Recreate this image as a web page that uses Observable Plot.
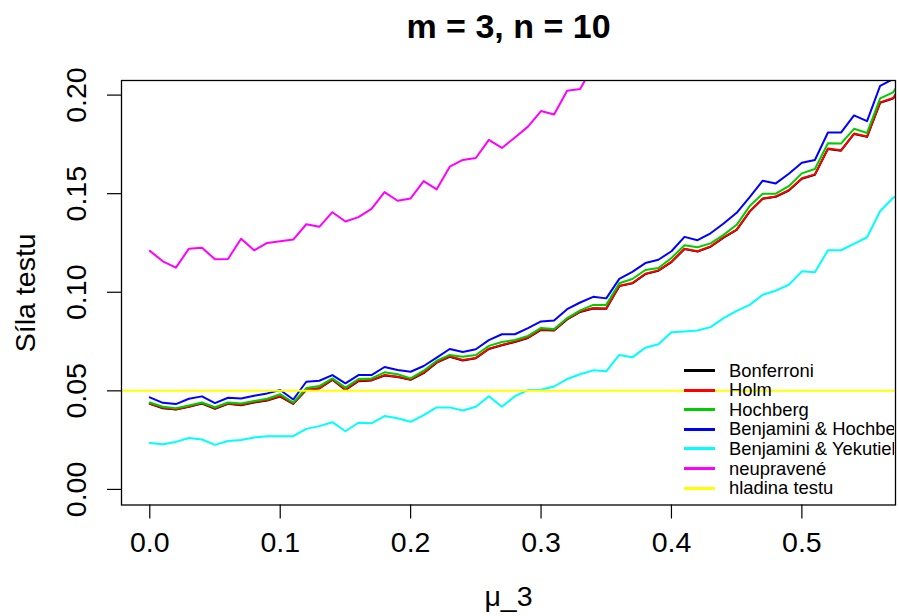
<!DOCTYPE html>
<html><head><meta charset="utf-8">
<script src="https://cdn.jsdelivr.net/npm/d3@7"></script>
<script src="https://cdn.jsdelivr.net/npm/@observablehq/plot@0.6"></script>
<style>
body{margin:0;overflow:hidden;background:#fff;}
#wrap{position:relative;width:899px;height:616px;overflow:hidden;font-family:"Liberation Sans",Arial,Helvetica,sans-serif;}
#legend{position:absolute;left:684px;top:361px;width:210px;overflow:hidden;}
.row{display:flex;align-items:center;height:19.55px;white-space:nowrap;font-size:18.4px;color:#000;}
.sw{flex:none;width:31px;height:0;border-top:3px solid;margin-right:14px;}
</style></head><body><div id="wrap"></div>
<script>
const title = "m = 3, n = 10";
const xLabel = "μ_3";
const yLabel = "Síla testu";
const alpha = 0.05;
const xTicks = [0.0, 0.1, 0.2, 0.3, 0.4, 0.5];
const yTicks = [0.00, 0.05, 0.10, 0.15, 0.20];

const mu = [0.00,0.01,0.02,0.03,0.04,0.05,0.06,0.07,0.08,0.09,0.10,0.11,0.12,0.13,0.14,0.15,0.16,0.17,0.18,0.19,
            0.20,0.21,0.22,0.23,0.24,0.25,0.26,0.27,0.28,0.29,0.30,0.31,0.32,0.33,0.34,0.35,0.36,0.37,0.38,0.39,
            0.40,0.41,0.42,0.43,0.44,0.45,0.46,0.47,0.48,0.49,0.50,0.51,0.52,0.53,0.54,0.55,0.56,0.57,0.58];

const bonferroni = [0.0434,0.0412,0.0405,0.0419,0.0436,0.0409,0.0434,0.0427,0.0441,0.0451,0.0471,0.0434,0.0505,0.0512,0.0556,0.0505,0.0549,0.0553,0.0578,0.0570,
                    0.0556,0.0590,0.0643,0.0673,0.0654,0.0665,0.0712,0.0731,0.0748,0.0768,0.0809,0.0806,0.0862,0.0900,0.0918,0.0916,0.1031,0.1045,0.1092,0.1109,
                    0.1153,0.1219,0.1206,0.1231,0.1277,0.1316,0.1409,0.1474,0.1484,0.1516,0.1576,0.1596,0.1727,0.1718,0.1803,0.1788,0.1961,0.1983,0.2085];
const holm =       [0.0436,0.0414,0.0407,0.0421,0.0438,0.0411,0.0436,0.0429,0.0443,0.0453,0.0473,0.0436,0.0507,0.0514,0.0558,0.0507,0.0551,0.0555,0.0580,0.0572,
                    0.0558,0.0592,0.0645,0.0675,0.0656,0.0667,0.0714,0.0733,0.0750,0.0770,0.0811,0.0808,0.0864,0.0902,0.0920,0.0918,0.1033,0.1047,0.1094,0.1111,
                    0.1155,0.1221,0.1208,0.1233,0.1279,0.1318,0.1411,0.1476,0.1486,0.1518,0.1578,0.1598,0.1729,0.1720,0.1805,0.1790,0.1963,0.1985,0.2090];
const hochberg =   [0.0441,0.0419,0.0412,0.0426,0.0441,0.0417,0.0441,0.0436,0.0449,0.0460,0.0483,0.0441,0.0514,0.0524,0.0563,0.0516,0.0560,0.0563,0.0594,0.0584,
                    0.0563,0.0602,0.0653,0.0682,0.0673,0.0682,0.0728,0.0748,0.0758,0.0779,0.0819,0.0814,0.0869,0.0908,0.0936,0.0936,0.1046,0.1067,0.1113,0.1123,
                    0.1174,0.1238,0.1228,0.1248,0.1291,0.1342,0.1437,0.1500,0.1500,0.1538,0.1603,0.1625,0.1756,0.1754,0.1829,0.1808,0.1983,0.2014,0.2120];
const bh =         [0.0467,0.0439,0.0433,0.0460,0.0472,0.0438,0.0465,0.0461,0.0475,0.0487,0.0504,0.0456,0.0546,0.0551,0.0580,0.0538,0.0580,0.0580,0.0621,0.0606,
                    0.0597,0.0626,0.0668,0.0712,0.0697,0.0711,0.0757,0.0787,0.0787,0.0818,0.0852,0.0857,0.0914,0.0948,0.0977,0.0969,0.1068,0.1103,0.1148,0.1165,
                    0.1208,0.1281,0.1264,0.1299,0.1349,0.1403,0.1483,0.1566,0.1552,0.1601,0.1657,0.1671,0.1810,0.1810,0.1897,0.1868,0.2047,0.2081,0.2150];
const by =         [0.0236,0.0229,0.0241,0.0261,0.0253,0.0226,0.0246,0.0251,0.0263,0.0270,0.0270,0.0270,0.0307,0.0321,0.0341,0.0295,0.0338,0.0335,0.0372,0.0361,
                    0.0343,0.0377,0.0416,0.0416,0.0400,0.0419,0.0473,0.0419,0.0473,0.0504,0.0506,0.0522,0.0560,0.0584,0.0604,0.0599,0.0682,0.0670,0.0719,0.0736,
                    0.0797,0.0801,0.0806,0.0823,0.0869,0.0906,0.0936,0.0987,0.1008,0.1038,0.1106,0.1101,0.1213,0.1213,0.1245,0.1279,0.1411,0.1479,0.1520];
const unadjusted = [0.1210,0.1157,0.1125,0.1221,0.1226,0.1167,0.1169,0.1271,0.1213,0.1250,0.1259,0.1267,0.1345,0.1332,0.1406,0.1359,0.1381,0.1423,0.1508,0.1464,
                    0.1476,0.1564,0.1522,0.1637,0.1671,0.1681,0.1773,0.1732,0.1785,0.1840,0.1919,0.1902,0.2022,0.2031,0.2149];

const seriesNames = ["Bonferroni","Holm","Hochberg","Benjamini & Hochberg","Benjamini & Yekutieli","neupravené","hladina testu"];
const seriesColors = ["#000000","#FF0000","#00CD00","#0000FF","#00FFFF","#FF00FF","#FFFF00"];
const seriesValues = [bonferroni, holm, hochberg, bh, by, unadjusted];

const rows = [];
seriesValues.forEach((vals, s) => vals.forEach((v, i) => rows.push({mu: mu[i], power: v, method: seriesNames[s]})));

const font = "Liberation Sans, Arial, Helvetica, sans-serif";
const chart = Plot.plot({
  width: 899, height: 616,
  marginLeft: 121, marginRight: 4, marginTop: 80, marginBottom: 111.5,
  style: {fontFamily: font, background: "white", color: "black"},
  x: {domain: [-0.0217, 0.5718]},
  y: {domain: [-0.0079, 0.2074]},
  color: {domain: seriesNames, range: seriesColors},
  marks: [
    ...seriesNames.slice(0, 6).map(name => Plot.line(rows.filter(d => d.method === name), {x: "mu", y: "power", stroke: "method", strokeWidth: 2, clip: true})),
    Plot.ruleY([alpha], {stroke: seriesColors[6], strokeWidth: 2}),
    Plot.frame({stroke: "black", strokeWidth: 1.3}),
    Plot.axisX({ticks: xTicks, tickFormat: d => d.toFixed(1), tickSize: 14, tickPadding: 24, lineAnchor: "middle", fontSize: 28.5, label: null, strokeWidth: 1.2}),
    Plot.axisY({ticks: yTicks, tickFormat: () => "", tickSize: 14, label: null, strokeWidth: 1.2}),
    Plot.text(yTicks, {y: d => d, text: d => d.toFixed(2), frameAnchor: "left", dx: -44.5, rotate: -90, textAnchor: "middle", lineAnchor: "middle", fontSize: 28.5}),
    Plot.text([title], {text: d => d, frameAnchor: "top", dy: -53, textAnchor: "middle", lineAnchor: "middle", fontSize: 34, fontWeight: "bold"}),
    Plot.text([xLabel], {text: d => d, frameAnchor: "bottom", dy: 91.5, textAnchor: "middle", lineAnchor: "middle", fontSize: 28.5}),
    Plot.text([yLabel], {text: d => d, frameAnchor: "left", dx: -96, rotate: -90, textAnchor: "middle", lineAnchor: "middle", fontSize: 28.5})
  ]
});
const wrap = document.getElementById("wrap");
wrap.appendChild(chart);

const legend = document.createElement("div");
legend.id = "legend";
seriesNames.forEach((name, i) => {
  const row = document.createElement("div");
  row.className = "row";
  const sw = document.createElement("span");
  sw.className = "sw";
  sw.style.borderTopColor = seriesColors[i];
  const t = document.createElement("span");
  t.textContent = name;
  row.appendChild(sw); row.appendChild(t);
  legend.appendChild(row);
});
wrap.appendChild(legend);
</script></body></html>
